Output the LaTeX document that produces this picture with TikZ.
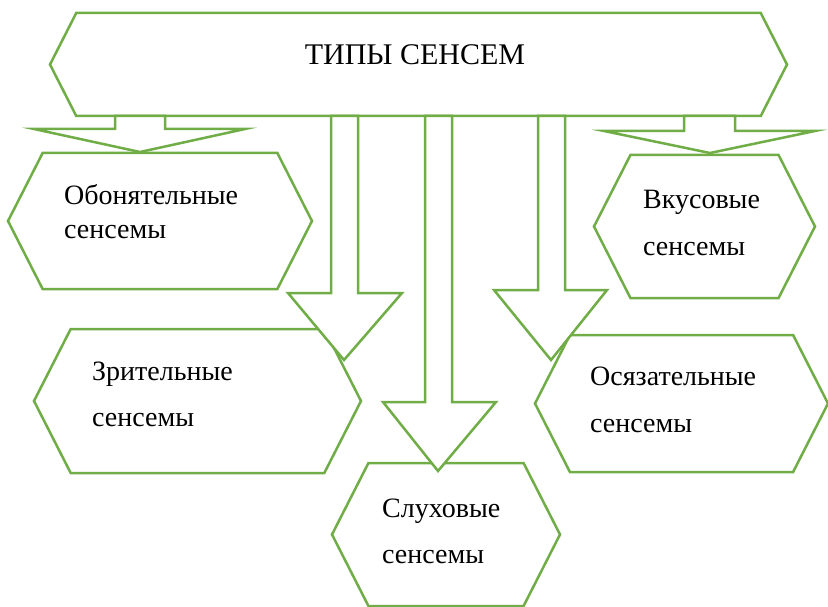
\documentclass[tikz,border=0pt]{standalone}
\usepackage{fontspec}
\setmainfont{Liberation Serif}
\usetikzlibrary{shapes.symbols}
\definecolor{leafgreen}{RGB}{112,173,71}

\begin{document}
\begin{tikzpicture}[x=1pt, y=-1pt,
    hexbox/.style={signal, signal to=west and east, signal pointer angle=126,
        draw=leafgreen, line width=2.5pt, fill=white, inner sep=0pt, outer sep=0pt},
    blockarrow/.style={draw=leafgreen, line width=2.5pt, fill=white, line join=miter},
    sensetext/.style={font=\fontsize{28}{#1}\selectfont, align=left, anchor=base west, inner sep=0pt}]
    \useasboundingbox (0,0) rectangle (828,607);

    % Top box
    \node[hexbox, minimum width=737pt, minimum height=103pt] (types) at (418.5,64.5) {};
    \node[font=\fontsize{30}{34}\selectfont, anchor=base, inner sep=0pt] (typestext) at (415,65) {ТИПЫ СЕНСЕМ};

    % Sense boxes
    \node[hexbox, minimum width=304pt, minimum height=136pt] (smell) at (160,221) {};
    \node[hexbox, minimum width=327pt, minimum height=144pt] (sight) at (197.5,401) {};
    \node[hexbox, minimum width=228pt, minimum height=143pt] (hearing) at (446,534.5) {};
    \node[hexbox, minimum width=293pt, minimum height=137pt] (touch) at (681.5,403.5) {};
    \node[hexbox, minimum width=221pt, minimum height=143pt] (taste) at (704.5,226.5) {};

    % Texts (anchored at the baseline of the second line)
    \node[sensetext=34] (smelltext) at (64,238) {Обонятельные\\сенсемы};
    \node[sensetext=46] (sighttext) at (92,426) {Зрительные\\сенсемы};
    \node[sensetext=46] (hearingtext) at (382,563) {Слуховые\\сенсемы};
    \node[sensetext=47] (touchtext) at (590,432) {Осязательные\\сенсемы};
    \node[sensetext=47] (tastetext) at (643,255) {Вкусовые\\сенсемы};

    % Block arrows
    \foreach \xa/\xb/\hy/\hl/\hr/\tx/\ty in {115/165/129/34/245/140/152,
        331/358/293/288/402/344/360, 425/452/402/383/496/438/471,
        538/565/290/494/607/551/360, 684/735/131/604/815/710/153}
        \draw[blockarrow] (\xa,116) -- (\xa,\hy) -- (\hl,\hy) -- (\tx,\ty)
            -- (\hr,\hy) -- (\xb,\hy) -- (\xb,116) -- cycle;
\end{tikzpicture}
\end{document}
